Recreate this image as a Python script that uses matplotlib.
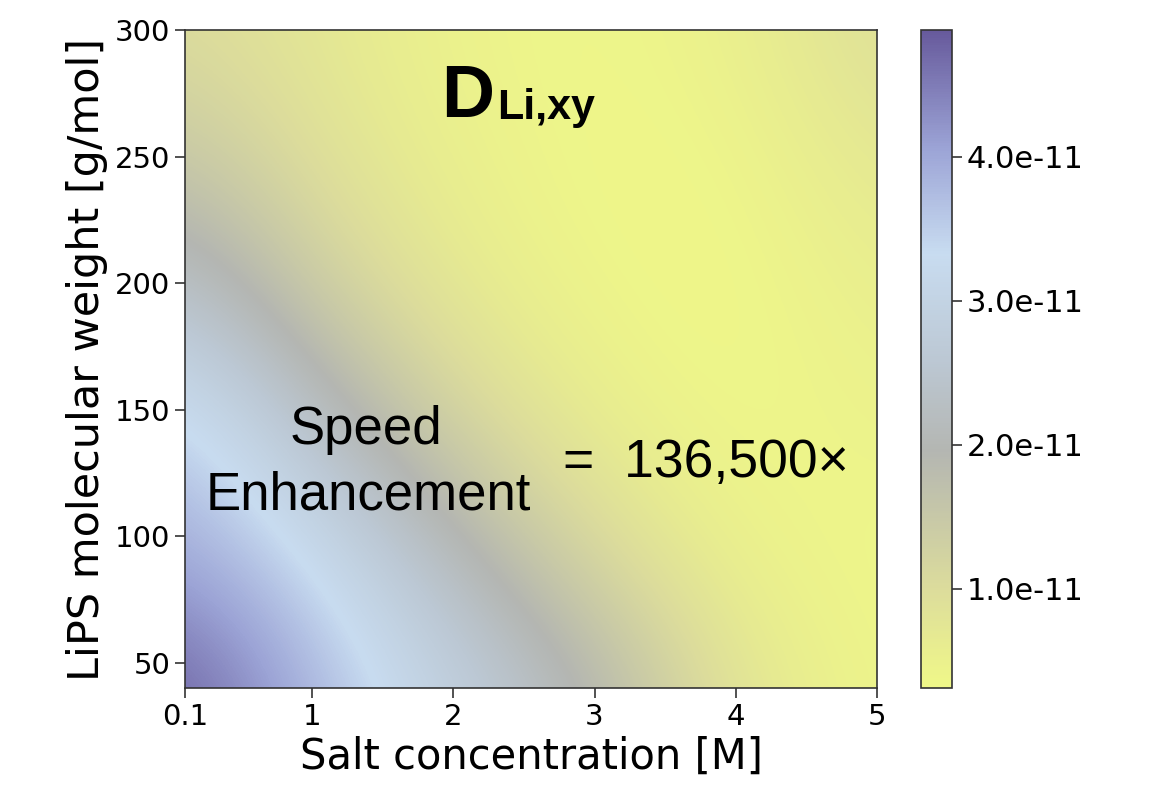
import numpy as np
import matplotlib
matplotlib.use("Agg")
import matplotlib.pyplot as plt
from matplotlib.colors import LinearSegmentedColormap

# grid nodes (evenly spaced so imshow can interpolate)
salt_conc = [0.1, 1.08, 2.06, 3.04, 4.02, 5.0]   # M
lips_mw = [40, 92, 144, 196, 248, 300]           # g/mol

# D_Li,xy in units of 1e-11, rows follow lips_mw, columns follow salt_conc
d_mw40 = [4.88, 3.77, 2.87, 1.96, 0.75, 0.38]
d_mw92 = [4.00, 3.26, 2.09, 1.05, 0.45, 0.36]
d_mw144 = [3.60, 2.29, 1.15, 0.55, 0.34, 0.45]
d_mw196 = [2.50, 1.30, 0.65, 0.38, 0.32, 0.55]
d_mw248 = [1.55, 0.85, 0.50, 0.33, 0.38, 0.72]
d_mw300 = [1.00, 0.70, 0.42, 0.35, 0.50, 0.95]

cbar_ticks = [1e-11, 2e-11, 3e-11, 4e-11]
vmin, vmax = 0.31e-11, 4.88e-11

cmap = LinearSegmentedColormap.from_list("yellow_gray_purple", [
    (0.00, "#f0f888"),
    (0.15, "#dcdc9c"),
    (0.36, "#b4b6b2"),
    (0.50, "#bcc8d4"),
    (0.66, "#c8dcf0"),
    (0.82, "#9ca4d6"),
    (1.00, "#675a9c"),
])

D = np.array([d_mw40, d_mw92, d_mw144, d_mw196, d_mw248, d_mw300]) * 1e-11
dx = (salt_conc[1] - salt_conc[0]) / 2
dy = (lips_mw[1] - lips_mw[0]) / 2

fig = plt.figure(figsize=(11.53, 7.87), dpi=100)
ax = fig.add_axes([0.1605, 0.1258, 0.6001, 0.8361])
cax = fig.add_axes([0.7988, 0.1258, 0.0269, 0.8361])

img = ax.imshow(D, origin="lower", cmap=cmap, vmin=vmin, vmax=vmax,
                extent=[salt_conc[0] - dx, salt_conc[-1] + dx, lips_mw[0] - dy, lips_mw[-1] + dy],
                interpolation="bicubic", interpolation_stage="data", aspect="auto")
ax.set_xlim(0.1, 5)
ax.set_ylim(40, 300)
ax.set_xticks([0.1, 1, 2, 3, 4, 5])
ax.set_xticklabels(["0.1", "1", "2", "3", "4", "5"])
ax.set_yticks([50, 100, 150, 200, 250, 300])
ax.tick_params(labelsize=21, length=7, width=1.2, color="#333333")
for s in ax.spines.values():
    s.set_color("#333333")
    s.set_linewidth(1.2)
ax.set_xlabel("Salt concentration [M]", fontsize=30, labelpad=4)
ax.set_ylabel("LiPS molecular weight [g/mol]", fontsize=31, labelpad=5)

# annotations
sans = ["Liberation Sans", "DejaVu Sans"]
ax.text(1.38, 142, "Speed", ha="center", va="center", fontsize=38, family=sans)
ax.text(1.40, 116, "Enhancement", ha="center", va="center", fontsize=38, family=sans)
ax.text(3.79, 129, "=  136,500\u00d7", ha="center", va="center", fontsize=38.5, family=sans)
ax.text(2.29, 265.5, "D", ha="right", va="baseline", fontsize=53, fontweight="bold", family=sans)
ax.text(2.31, 265, "Li,xy", ha="left", va="baseline", fontsize=31, fontweight="bold", family=sans)

cb = fig.colorbar(img, cax=cax, ticks=cbar_ticks, format="%.1e")
cb.ax.tick_params(labelsize=22, length=7, width=1.2, color="#333333")
cb.outline.set_edgecolor("#333333")
cb.outline.set_linewidth(1.2)

fig.savefig("out.png", dpi=100)
